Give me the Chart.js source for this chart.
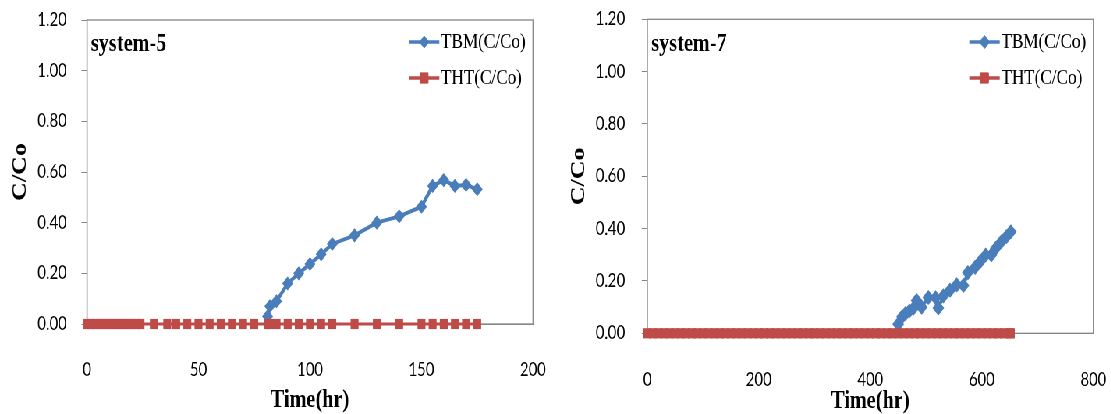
<!DOCTYPE html>
<html><head><meta charset="utf-8">
<script src="https://cdn.jsdelivr.net/npm/chart.js@4.4.1/dist/chart.umd.min.js"></script>
<style>
html,body{margin:0;padding:0;background:#fff;overflow:hidden;width:1111px;height:414px}
#wrap{position:absolute;left:0;top:0;width:1424px;height:414px;transform:scaleX(0.78);transform-origin:0 0;display:flex}
canvas{display:block}
</style></head><body>
<div id="wrap"><canvas id="c5" width="712" height="414"></canvas><canvas id="c7" width="712" height="414"></canvas></div>
<script>
// ---- system-5 data ----
const sys5TbmTime = [81, 82, 85, 90, 95, 100, 105, 110, 120, 130, 140, 150, 155, 160, 165, 170, 175];
const sys5Tbm     = [0.03, 0.07, 0.09, 0.16, 0.20, 0.237, 0.275, 0.316, 0.35, 0.40, 0.425, 0.463, 0.545, 0.568, 0.545, 0.549, 0.532];
const sys5ThtTime = [0, 2, 4, 6, 8, 10, 12, 14, 16, 18, 20, 22, 24, 30, 36, 40, 45, 50, 55, 60, 65, 70, 75, 81, 82, 85, 90, 95, 100, 105, 110, 120, 130, 140, 150, 155, 160, 165, 170, 175];
const sys5Tht     = [0, 0, 0, 0, 0, 0, 0, 0, 0, 0, 0, 0, 0, 0, 0, 0, 0, 0, 0, 0, 0, 0, 0, 0, 0, 0, 0, 0, 0, 0, 0, 0, 0, 0, 0, 0, 0, 0, 0, 0];
const sys5XTicks = [0, 50, 100, 150, 200];

// ---- system-7 data ----
const sys7TbmTime = [450, 457, 463, 470, 477, 483, 492, 504, 517, 522, 531, 543, 555, 567, 575, 588, 597, 607, 617, 625, 635, 644, 652];
const sys7Tbm     = [0.035, 0.063, 0.075, 0.085, 0.095, 0.125, 0.10, 0.137, 0.136, 0.097, 0.143, 0.165, 0.185, 0.183, 0.232, 0.252, 0.274, 0.299, 0.299, 0.325, 0.35, 0.369, 0.388];
const sys7ThtTime = [0, 10, 20, 30, 40, 50, 60, 70, 80, 90, 100, 110, 120, 130, 140, 150, 160, 170, 180, 190, 200, 210, 220, 230, 240, 250, 260, 270, 280, 290, 300, 310, 320, 330, 340, 350, 360, 370, 380, 390, 400, 410, 420, 430, 440, 450, 460, 470, 480, 490, 500, 510, 520, 530, 540, 550, 560, 570, 580, 590, 600, 610, 620, 630, 640, 650, 652];
const sys7Tht     = [0, 0, 0, 0, 0, 0, 0, 0, 0, 0, 0, 0, 0, 0, 0, 0, 0, 0, 0, 0, 0, 0, 0, 0, 0, 0, 0, 0, 0, 0, 0, 0, 0, 0, 0, 0, 0, 0, 0, 0, 0, 0, 0, 0, 0, 0, 0, 0, 0, 0, 0, 0, 0, 0, 0, 0, 0, 0, 0, 0, 0, 0, 0, 0, 0, 0, 0];
const sys7XTicks = [0, 200, 400, 600, 800];

const yTicks = [0, 0.2, 0.4, 0.6, 0.8, 1.0, 1.2];
const seriesNames = ['TBM(C/Co)', 'THT(C/Co)'];

const BLUE = '#4A7EBB', RED = '#BE4B48', AXIS = '#868686', TXT = '#000';

function pts(xs, ys){ return xs.map((x,i)=>({x:x, y:ys[i]})); }

function drawMarker(ctx, style, x, y, r, color){
  ctx.save(); ctx.fillStyle=color; ctx.strokeStyle=color; ctx.lineWidth=1;
  ctx.beginPath();
  if (style==='rectRot'){ ctx.moveTo(x, y-r); ctx.lineTo(x+r, y); ctx.lineTo(x, y+r); ctx.lineTo(x-r, y); }
  else { const h=r*Math.SQRT1_2; ctx.rect(x-h, y-h, 2*h, 2*h); }
  ctx.closePath(); ctx.fill(); ctx.stroke(); ctx.restore();
}

function decor(label){
  return {
    id:'decor',
    beforeDatasetsDraw(chart){
      const {ctx, chartArea:a} = chart;
      ctx.save(); ctx.strokeStyle=AXIS; ctx.lineWidth=1.3;
      ctx.strokeRect(a.left, a.top, a.right-a.left, a.bottom-a.top);
      ctx.restore();
    },
    afterDatasetsDraw(chart){
      const {ctx, chartArea:a} = chart;
      ctx.save();
      ctx.fillStyle=TXT;
      ctx.font='bold 26px "Liberation Serif"';
      ctx.textBaseline='alphabetic'; ctx.textAlign='left';
      ctx.fillText(label, a.left+5, 51);
      const rows=[42, 78];
      chart.data.datasets.forEach((ds,i)=>{
        const y=rows[i];
        const x1=a.right-159, x2=a.right-120;
        ctx.strokeStyle=ds.borderColor; ctx.lineWidth=3.5;
        ctx.beginPath(); ctx.moveTo(x1,y); ctx.lineTo(x2,y); ctx.stroke();
        drawMarker(ctx, ds.pointStyle, (x1+x2)/2, y, ds.pointRadius, ds.borderColor);
        ctx.fillStyle=TXT; ctx.font='22px "Liberation Serif"'; ctx.textBaseline='middle';
        ctx.fillText(ds.label, a.right-118, y);
      });
      ctx.restore();
    }
  };
}

function makeChart(id, label, tbmT, tbm, thtT, tht, xTicks, geo){
  const tickFont = {family:'Lato', size:19};
  const titleFont = {family:'Liberation Serif', size:26, weight:'bold', lineHeight:1};
  return new Chart(document.getElementById(id), {
    type:'line',
    data:{ datasets:[
      {label:seriesNames[0], data:pts(tbmT,tbm), borderColor:BLUE, backgroundColor:BLUE, borderWidth:4,
       pointStyle:'rectRot', pointRadius:geo.br, pointBorderWidth:1.5, pointBackgroundColor:BLUE, pointBorderColor:BLUE, clip:false, order:2, tension:0},
      {label:seriesNames[1], data:pts(thtT,tht), borderColor:RED, backgroundColor:RED, borderWidth:3,
       pointStyle:'rect', pointRadius:7.2, pointBorderWidth:0, pointBackgroundColor:RED, pointBorderColor:RED, clip:false, order:1, tension:0}
    ]},
    options:{
      responsive:false, animation:false, events:[],
      layout:{padding:{top:geo.top, right:geo.right, bottom:0, left:0}},
      plugins:{legend:{display:false}, tooltip:{enabled:false}},
      scales:{
        x:{type:'linear', min:xTicks[0], max:xTicks[xTicks.length-1],
           afterBuildTicks:s=>{ s.ticks = xTicks.map(v=>({value:v})); },
           afterFit:s=>{ s.height = geo.xh; s.paddingLeft = 0; s.paddingRight = 0; },
           ticks:{padding:geo.xpad, font:tickFont, color:TXT, maxRotation:0, autoSkip:false},
           grid:{display:true, drawOnChartArea:false, drawTicks:false, color:AXIS},
           border:{display:true, color:AXIS, width:1},
           title:{display:true, text:'Time(hr)', font:titleFont, color:TXT, padding:{top:0, bottom:geo.xtb}}},
        y:{type:'linear', min:0, max:1.2,
           afterBuildTicks:s=>{ s.ticks = yTicks.map(v=>({value:v})); },
           afterFit:s=>{ s.width = geo.yw; s.paddingTop = 0; s.paddingBottom = 0; },
           ticks:{padding:geo.ypad, font:tickFont, color:TXT, callback:v=>Number(v).toFixed(2)},
           grid:{display:true, drawOnChartArea:false, drawTicks:true, tickLength:7, color:AXIS},
           border:{display:true, color:AXIS, width:1.3},
           title:{display:true, text:'C/Co', font:titleFont, color:TXT, padding:{top:geo.ytp, bottom:0}}}
      }
    },
    plugins:[decor(label)]
  });
}

makeChart('c5', 'system-5', sys5TbmTime, sys5Tbm, sys5ThtTime, sys5Tht, sys5XTicks,
  {top:20, right:28.7, xh:90, yw:111.5, xpad:34.5, xtb:1, ypad:19, ytp:13.3, br:6});
makeChart('c7', 'system-7', sys7TbmTime, sys7Tbm, sys7ThtTime, sys7Tht, sys7XTicks,
  {top:19.3, right:22.3, xh:80.7, yw:117.9, xpad:35.5, xtb:0, ypad:21.5, ytp:17.3, br:6.5});
</script>
</body></html>
